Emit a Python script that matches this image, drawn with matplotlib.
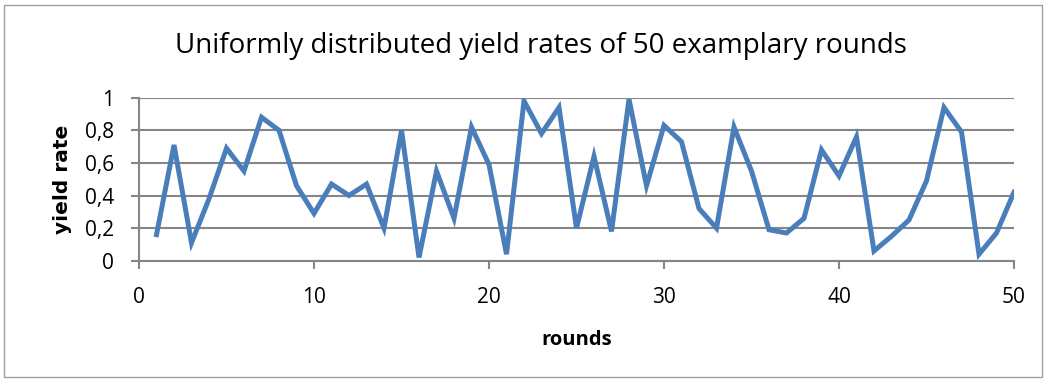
import numpy as np
import matplotlib.pyplot as plt
from matplotlib.patches import Rectangle

# yield rate of each round
rounds = np.arange(1, 51)
yield_rate = [0.16, 0.71, 0.11, 0.38, 0.69, 0.55, 0.88, 0.80, 0.46, 0.29,
              0.47, 0.40, 0.47, 0.20, 0.80, 0.02, 0.55, 0.26, 0.82, 0.59,
              0.04, 0.98, 0.78, 0.94, 0.20, 0.64, 0.18, 0.99, 0.46, 0.83,
              0.73, 0.32, 0.20, 0.82, 0.55, 0.19, 0.17, 0.26, 0.68, 0.52,
              0.76, 0.06, 0.15, 0.25, 0.49, 0.94, 0.79, 0.04, 0.17, 0.42]

x_ticks = [0, 10, 20, 30, 40, 50]
y_ticks = [0, 0.2, 0.4, 0.6, 0.8, 1]
y_labels = ['0', '0,2', '0,4', '0,6', '0,8', '1']

plt.rcParams['font.family'] = ['Open Sans', 'DejaVu Sans']
grey = '#868686'

fig = plt.figure(figsize=(10.46, 3.8), dpi=100)
fig.patches.append(Rectangle((0.004, 0.008), 0.992, 0.978, transform=fig.transFigure,
                             fill=False, edgecolor='#a0a0a0', linewidth=1))

ax = fig.add_axes([0.1329, 0.3139, 0.8365, 0.429])
ax.plot(rounds, yield_rate, color='#4a7ebb', linewidth=3.6, solid_joinstyle='miter')

ax.set_xlim(0, 50)
ax.set_ylim(0, 1)
ax.set_xticks(x_ticks)
ax.set_yticks(y_ticks)
ax.set_yticklabels(y_labels)
ax.yaxis.grid(True, color=grey, linewidth=1.5)
ax.set_axisbelow(True)
for s in ['top', 'right']:
    ax.spines[s].set_visible(False)
for s in ['left', 'bottom']:
    ax.spines[s].set_color(grey)
    ax.spines[s].set_linewidth(1.5)
ax.tick_params(axis='both', colors=grey, labelcolor='black', labelsize=15,
               width=1.5, length=6)
ax.tick_params(axis='x', pad=13)
ax.tick_params(axis='y', pad=12)

ax.set_xlabel('rounds', fontsize=14.5, fontweight='bold', labelpad=16)
ax.set_ylabel('yield rate', fontsize=14.5, fontweight='bold', labelpad=9,
              family=['DejaVu Sans'])
fig.text(0.517, 0.88, 'Uniformly distributed yield rates of 50 examplary rounds',
         ha='center', va='center', fontsize=20)

fig.savefig('out.png', dpi=100)
